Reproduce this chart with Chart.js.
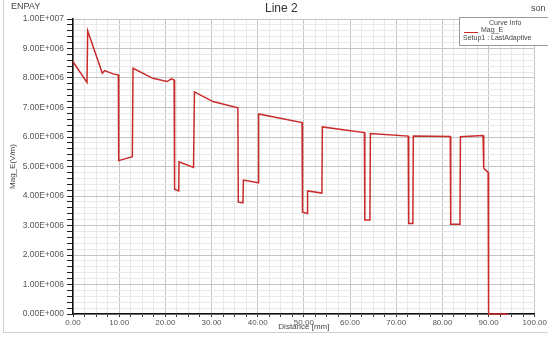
<!DOCTYPE html>
<html lang="en">
<head>
<meta charset="UTF-8">
<title>Line 2</title>
<script src="https://cdn.jsdelivr.net/npm/chart.js"></script>
<style>
    body { margin: 0; background: #fff; font-family: "Liberation Sans", Arial, sans-serif; }
    #wrap { position: relative; width: 548px; height: 338px; overflow: hidden; background: #fff; }
    #frame { position: absolute; left: 3px; top: 0; width: 560px; height: 332px; border-left: 1px solid #cfcfcf; border-bottom: 1px solid #cfcfcf; }
    .txt { position: absolute; color: #444; white-space: nowrap; }
    #legend { position: absolute; left: 459px; top: 17px; width: 100px; height: 27px; border: 1px solid #9a9a9a; background: #fff; font-size: 7px; color: #444; }
</style>
</head>
<body>
<div id="wrap">
    <div id="frame"></div>
    <canvas id="chart" width="548" height="338"></canvas>
    <div class="txt" style="left:11px; top:1px; font-size:9px;">ENPAY</div>
    <div class="txt" style="left:265px; top:1px; font-size:12px; color:#333;">Line 2</div>
    <div class="txt" style="left:531px; top:3px; font-size:9px;">son</div>
    <div id="legend">
        <div class="txt" style="left:29px; top:1px;">Curve Info</div>
        <div style="position:absolute; left:4px; top:14px; width:14px; height:1px; background:#cc2a2a;"></div>
        <div class="txt" style="left:21px; top:8px;">Mag_E</div>
        <div class="txt" style="left:3px; top:16px;">Setup1 : LastAdaptive</div>
    </div>
</div>
<script>
    // Distance [mm] と Mag_E (x1e6 V/m)
    const distanceMm = [0, 3.03, 3.18, 6.35, 6.86, 8.66, 9.82,
        9.9, 12.85, 13.0, 17.3, 20.36, 21.3, 21.9,
        22.0, 22.9, 22.96, 26.1, 26.3, 30.3, 35.7,
        35.8, 36.8, 36.9, 40.1, 40.2, 49.6,
        49.7, 50.7, 50.8, 53.9, 54.0, 63.1,
        63.2, 64.3, 64.4, 72.6, 72.7, 73.6,
        73.7, 81.7, 81.8, 83.8, 83.9, 88.8,
        88.95, 89.9, 90.0, 94.2];
    const magEMillion = [8.55, 7.85, 9.60, 8.16, 8.25, 8.14, 8.10,
        5.20, 5.33, 8.33, 7.99, 7.88, 7.97, 7.93,
        4.23, 4.17, 5.16, 4.97, 7.53, 7.20, 6.99,
        3.79, 3.77, 4.54, 4.45, 6.78, 6.49,
        3.45, 3.41, 4.17, 4.10, 6.34, 6.15,
        3.19, 3.19, 6.12, 6.03, 3.07, 3.07,
        6.03, 6.02, 3.04, 3.04, 6.01, 6.05,
        4.94, 4.80, 0, 0];

    const points = distanceMm.map((d, i) => ({ x: d, y: magEMillion[i] * 1e6 }));

    // 1.00E+007 形式
    function sciLabel(v) {
        const parts = Number(v).toExponential(2).split('e');
        const e = parseInt(parts[1]);
        const sign = e < 0 ? '-' : '+';
        return parts[0] + 'E' + sign + String(Math.abs(e)).padStart(3, '0');
    }

    const isMajorX = v => Math.abs(v / 10 - Math.round(v / 10)) < 1e-6;
    const isMajorY = v => Math.abs(v / 1e6 - Math.round(v / 1e6)) < 1e-6;

    const ctx = document.getElementById('chart');
    new Chart(ctx, {
        type: 'scatter',
        data: {
            datasets: [{
                label: 'Mag_E',
                data: points,
                showLine: true,
                borderColor: '#c92a2a',
                borderWidth: 1.5,
                pointRadius: 0,
                tension: 0,
                clip: 4
            }]
        },
        options: {
            responsive: false,
            animation: false,
            layout: { padding: { left: 0, top: 19, right: 13, bottom: 0 } },
            plugins: { legend: { display: false }, tooltip: { enabled: false } },
            scales: {
                x: {
                    type: 'linear', min: 0, max: 100,
                    afterFit: s => { s.height = 24; },
                    border: { color: '#111', width: 1.5 },
                    grid: {
                        color: c => isMajorX(c.tick.value) ? '#c4c4c4' : '#e8e8e8',
                        tickColor: '#333',
                        tickLength: 3,
                        lineWidth: 1
                    },
                    ticks: {
                        stepSize: 2.5, autoSkip: false, maxRotation: 0, padding: 1,
                        color: '#555', font: { size: 8, family: 'Liberation Sans' },
                        callback: v => isMajorX(v) ? v.toFixed(2) : ''
                    },
                    title: {
                        display: true, text: 'Distance [mm]', color: '#444',
                        font: { size: 8, family: 'Liberation Sans' },
                        padding: { top: -4, bottom: 6 }
                    }
                },
                y: {
                    type: 'linear', min: 0, max: 1e7,
                    afterFit: s => { s.width = 73; },
                    border: { color: '#111', width: 1.5 },
                    grid: {
                        color: c => isMajorY(c.tick.value) ? '#c4c4c4' : '#e8e8e8',
                        tickColor: '#222',
                        tickLength: 6,
                        lineWidth: 1
                    },
                    ticks: {
                        stepSize: 2e5, autoSkip: false, padding: 3,
                        color: '#555', font: { size: 8.5, family: 'Liberation Sans' },
                        callback: v => isMajorY(v) ? sciLabel(v) : ''
                    },
                    title: {
                        display: true, text: 'Mag_E(V/m)', color: '#444',
                        font: { size: 8, family: 'Liberation Sans' },
                        padding: { top: 8, bottom: 0 }
                    }
                }
            }
        }
    });
</script>
</body>
</html>
